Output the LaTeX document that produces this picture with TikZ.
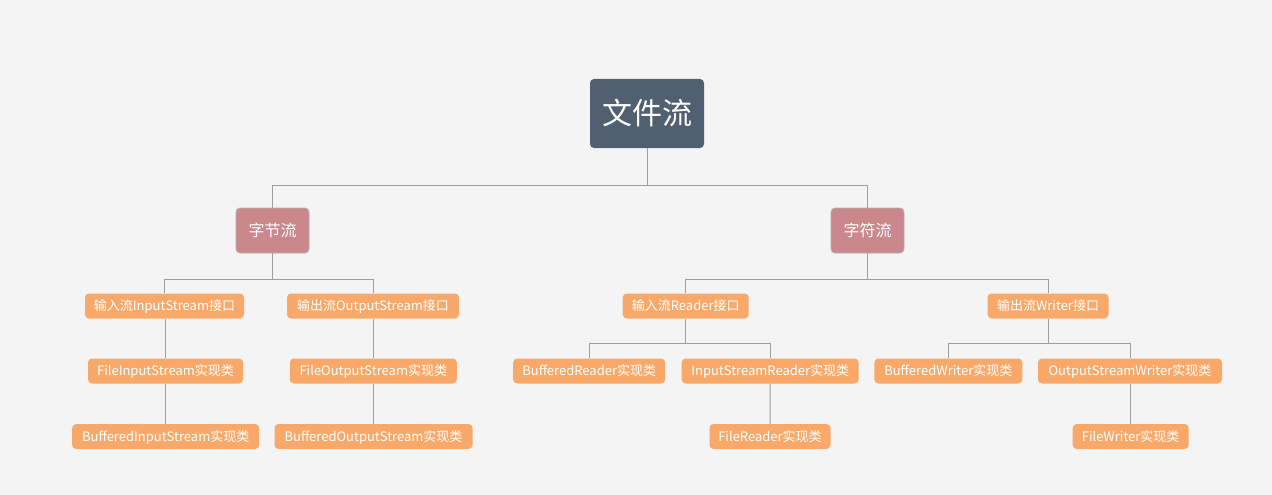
\documentclass[tikz,border=0pt]{standalone}
\usepackage{fontspec}
\setmainfont{Noto Sans CJK SC}
\begin{document}
\begin{tikzpicture}[x=1pt,y=-1pt,
  conn/.style={draw=black!38,line width=1pt},
  rootbox/.style={fill=rootc,rounded corners=4pt,text=white,font=\fontsize{30}{32}\selectfont,minimum width=114pt,minimum height=69pt,inner sep=0pt,text height=24pt,text depth=1.8pt},
  midbox/.style={fill=pinkc,draw=black!30,line width=0.8pt,rounded corners=4pt,text=white,font=\fontsize{16}{18}\selectfont,minimum width=73pt,minimum height=45pt,inner sep=0pt,text height=12.8pt,text depth=1pt},
  leafbox/.style={fill=orangec,rounded corners=4pt,text=white,font=\fontsize{13}{15}\selectfont,minimum height=25pt,inner sep=0pt,text height=10.4pt,text depth=0.8pt}]
\definecolor{bgc}{HTML}{F4F4F4}
\definecolor{rootc}{HTML}{506070}
\definecolor{pinkc}{HTML}{CA878C}
\definecolor{orangec}{HTML}{F8A969}
\fill[bgc] (0,0) rectangle (1272,495);
\useasboundingbox (0,0) rectangle (1272,495);

\node[rootbox] (root) at (647,113.5) {文件流};
\node[midbox] (byte) at (272.5,230.5) {字节流};
\node[midbox] (char) at (867.5,230.5) {字符流};

\node[leafbox,minimum width=159pt] (bin) at (164.5,306) {输入流InputStream接口};
\node[leafbox,minimum width=172pt] (bout) at (373,306) {输出流OutputStream接口};
\node[leafbox,minimum width=155pt] (fis) at (165.5,371) {FileInputStream实现类};
\node[leafbox,minimum width=167pt] (fos) at (373.3,371) {FileOutputStream实现类};
\node[leafbox,minimum width=187pt] (bis) at (165.7,436.5) {BufferedInputStream实现类};
\node[leafbox,minimum width=198pt] (bos) at (373.5,436.5) {BufferedOutputStream实现类};

\node[leafbox,minimum width=126pt] (rin) at (685.7,306) {输入流Reader接口};
\node[leafbox,minimum width=121pt] (wout) at (1048,306) {输出流Writer接口};
\node[leafbox,minimum width=152pt] (br) at (589.2,371) {BufferedReader实现类};
\node[leafbox,minimum width=177pt] (isr) at (770.2,371) {InputStreamReader实现类};
\node[leafbox,minimum width=121pt] (fr) at (770,436.5) {FileReader实现类};
\node[leafbox,minimum width=148pt] (bw) at (948.3,371) {BufferedWriter实现类};
\node[leafbox,minimum width=184pt] (osw) at (1130,371) {OutputStreamWriter实现类};
\node[leafbox,minimum width=116pt] (fw) at (1130.7,436.5) {FileWriter实现类};

\coordinate (j0) at (647,185);
\coordinate (j1) at (272.5,279);
\coordinate (j2) at (867.5,279);
\coordinate (j3) at (685.7,343.5);
\coordinate (j4) at (1048,343.5);

\draw[conn] (root.south) -- (j0) -| (byte.north);
\draw[conn] (j0) -| (char.north);
\draw[conn] (byte.south) -- (j1) -| (bin.north);
\draw[conn] (j1) -| (bout.north);
\draw[conn] (char.south) -- (j2) -| (rin.north);
\draw[conn] (j2) -| (wout.north);
\draw[conn] (bin.south -| fis.north) -- (fis.north);
\draw[conn] (fis.south) -- (fis.south |- bis.north);
\draw[conn] (bout.south) -- (bout.south |- fos.north);
\draw[conn] (fos.south) -- (fos.south |- bos.north);
\draw[conn] (rin.south) -- (j3) -| (br.north);
\draw[conn] (j3) -| (isr.north);
\draw[conn] (isr.south) -- (fr.north);
\draw[conn] (wout.south) -- (j4) -| (bw.north);
\draw[conn] (j4) -| (osw.north);
\draw[conn] (osw.south) -- (osw.south |- fw.north);
\end{tikzpicture}
\end{document}
